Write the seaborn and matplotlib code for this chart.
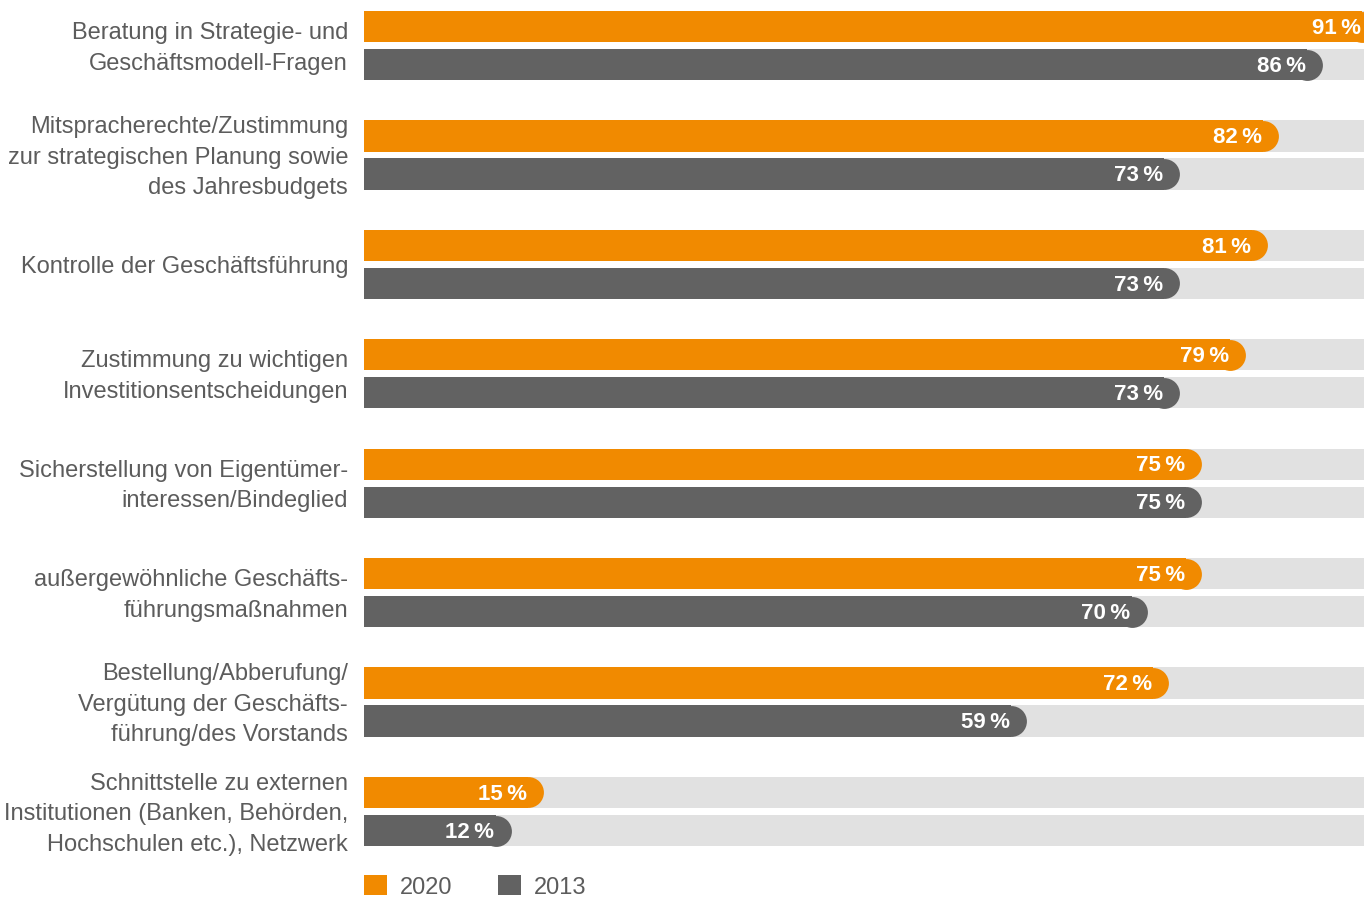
import numpy as np
import pandas as pd
import matplotlib
matplotlib.use('Agg')
import matplotlib.pyplot as plt
import matplotlib.transforms as mtransforms
import seaborn as sns

# daten
kategorien = [
    'Beratung in Strategie- und\nGeschäftsmodell-Fragen',
    'Mitspracherechte/Zustimmung\nzur strategischen Planung sowie\ndes Jahresbudgets',
    'Kontrolle der Geschäftsführung',
    'Zustimmung zu wichtigen\nInvestitionsentscheidungen',
    'Sicherstellung von Eigentümer-\ninteressen/Bindeglied',
    'außergewöhnliche Geschäfts-\nführungsmaßnahmen',
    'Bestellung/Abberufung/\nVergütung der Geschäfts-\nführung/des Vorstands',
    'Schnittstelle zu externen\nInstitutionen (Banken, Behörden,\nHochschulen etc.), Netzwerk',
]
werte_2020 = [91, 82, 81, 79, 75, 75, 72, 15]
werte_2013 = [86, 73, 73, 73, 75, 70, 59, 12]
jahre = ['2020', '2013']

df = pd.concat([
    pd.DataFrame({'Kategorie': kategorien, 'Wert': werte_2020, 'Jahr': '2020'}),
    pd.DataFrame({'Kategorie': kategorien, 'Wert': werte_2013, 'Jahr': '2013'}),
])

orange = '#f18a00'
grau = '#626262'
spur = '#e1e1e1'
textgrau = '#5c5c5c'

sns.set_style('white')
plt.rcParams['font.family'] = ['Liberation Sans', 'DejaVu Sans']

fig = plt.figure(figsize=(13.64, 8.97), dpi=100)
ax = fig.add_axes([364 / 1364, 1 - 866 / 897, 1000 / 1364, 866 / 897])

sns.barplot(data=df, y='Kategorie', x='Wert', hue='Jahr', hue_order=jahre,
            order=kategorien, orient='h', palette=[orange, grau],
            width=0.695, gap=0.175, saturation=1, linewidth=0, ax=ax)

ax.set_xlim(0, 91.2)
ax.set_ylim(7.498, -0.416)

# runde enden, hintergrundspur und beschriftung
balken = list(ax.patches)
for p in balken:
    w = p.get_width()
    h = p.get_height()
    yc = p.get_y() + h / 2
    if w <= 0:
        continue
    ax.barh(yc, 100, height=h, color=spur, zorder=0.5, linewidth=0)
    ax.plot(w, yc, marker='o', ms=22.2, mew=0, color=p.get_facecolor(), zorder=p.get_zorder())
    ax.text(w - 0.1, yc + 0.015, f'{w:.0f}\u2009%', ha='right', va='center',
            color='white', fontsize=16, fontweight='bold', zorder=4)

ax.set_xlabel('')
ax.set_ylabel('')
ax.set_xticks([])
ax.tick_params(axis='y', length=0, pad=11.5, labelsize=17, labelcolor=textgrau)
hoch = mtransforms.ScaledTranslation(0, 4 / 100, fig.dpi_scale_trans)
for t in ax.get_yticklabels():
    t.set_linespacing(1.5)
    if '\n' in t.get_text():
        t.set_transform(t.get_transform() + hoch)
sns.despine(ax=ax, left=True, bottom=True)

handles, labels = ax.get_legend_handles_labels()
ax.legend(handles[:2], labels[:2], loc='center left', bbox_to_anchor=(364 / 1364, 1 - 887 / 897),
          bbox_transform=fig.transFigure, ncol=2, frameon=False, fontsize=17,
          labelcolor=textgrau, handlelength=0.97, handleheight=0.93,
          handletextpad=0.55, columnspacing=1.95, borderaxespad=0, borderpad=0)

fig.savefig('out.png', dpi=100)
